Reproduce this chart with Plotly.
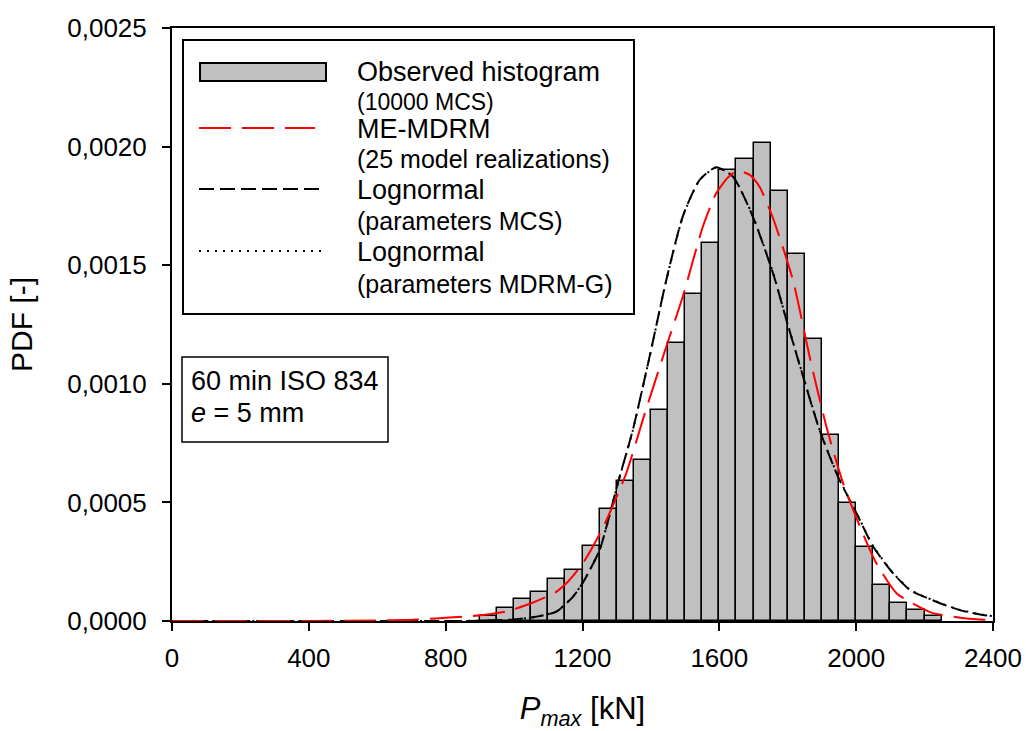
import plotly.graph_objects as go

# ---------------- data ----------------
bin_centers = [925, 975, 1025, 1075, 1125, 1175, 1225, 1275, 1325, 1375, 1425, 1475,
               1525, 1575, 1625, 1675, 1725, 1775, 1825, 1875, 1925, 1975, 2025, 2075,
               2125, 2175, 2225]
hist_pdf = [0.000020, 0.000056, 0.000091, 0.000121, 0.000177, 0.000213, 0.000317,
            0.000472, 0.000590, 0.000679, 0.000890, 0.001173, 0.001377, 0.001595,
            0.001901, 0.001948, 0.002017, 0.001813, 0.001546, 0.001189, 0.000784,
            0.000496, 0.000313, 0.000152, 0.000077, 0.000046, 0.000022]

me_mdrm_x = [0, 200, 400, 600, 700, 772, 849, 908, 977, 1054, 1120, 1160, 1201, 1259,
             1328, 1376, 1445, 1493, 1552, 1591, 1625, 1654, 1690, 1718, 1757, 1815,
             1864, 1913, 1962, 2011, 2059, 2118, 2157, 2225, 2323, 2400]
me_mdrm_y = [0, 0, 0, 0.000002, 0.000005, 0.000011, 0.000018, 0.000025, 0.000040,
             0.000077, 0.000120, 0.000170, 0.000243, 0.000391, 0.000623, 0.000847,
             0.001157, 0.001367, 0.001663, 0.001803, 0.001870, 0.001898, 0.001880,
             0.001830, 0.001698, 0.001438, 0.001114, 0.000819, 0.000580, 0.000398,
             0.000243, 0.000117, 0.000081, 0.000033, 0.000011, 0.000003]

logn_mcs_x = [0, 400, 800, 900, 1000, 1064, 1123, 1172, 1200, 1250, 1303, 1347, 1396,
              1445, 1493, 1542, 1591, 1640, 1698, 1757, 1796, 1845, 1893, 1947, 2001,
              2050, 2108, 2157, 2186, 2245, 2303, 2371, 2400]
logn_mcs_y = [0, 0, 0.0000002, 0.000001, 0.000006, 0.000018, 0.000039, 0.000102,
              0.000159, 0.000299, 0.000580, 0.000805, 0.001114, 0.001438, 0.001705,
              0.001859, 0.001913, 0.001873, 0.001705, 0.001466, 0.001269, 0.001030,
              0.000805, 0.000608, 0.000454, 0.000313, 0.000201, 0.000131, 0.000110,
              0.000075, 0.000046, 0.000025, 0.000020]

logn_mdrmg_x = [0, 400, 800, 900, 1000, 1064, 1123, 1172, 1200, 1250, 1303, 1347, 1396,
                1445, 1493, 1542, 1591, 1640, 1698, 1757, 1796, 1845, 1893, 1947, 2001,
                2050, 2108, 2157, 2186, 2245, 2303, 2371, 2400]
logn_mdrmg_y = [0, 0, 0.0000002, 0.000001, 0.000006, 0.000018, 0.000040, 0.000103,
                0.000160, 0.000300, 0.000578, 0.000803, 0.001112, 0.001436, 0.001703,
                0.001858, 0.001912, 0.001873, 0.001706, 0.001468, 0.001271, 0.001032,
                0.000807, 0.000610, 0.000456, 0.000315, 0.000202, 0.000132, 0.000111,
                0.000076, 0.000047, 0.000026, 0.000020]

x_ticks = [0, 400, 800, 1200, 1600, 2000, 2400]
x_tick_labels = ["0", "400", "800", "1200", "1600", "2000", "2400"]
y_ticks = [0, 0.0005, 0.0010, 0.0015, 0.0020, 0.0025]
y_tick_labels = ["0,0000", "0,0005", "0,0010", "0,0015", "0,0020", "0,0025"]

legend_labels = [
    ("Observed histogram", "(10000 MCS)"),
    ("ME-MDRM", "(25 model realizations)"),
    ("Lognormal", "(parameters MCS)"),
    ("Lognormal", "(parameters MDRM-G)"),
]
info_lines = ["60 min ISO 834", "<i>e</i> = 5 mm"]

# ---------------- layout geometry ----------------
FIG_W, FIG_H = 1026, 731
L, R, T, B = 172, 33, 28, 110
PW, PH = FIG_W - L - R, FIG_H - T - B
FONT = "Liberation Sans, Arial, sans-serif"

def fx(p):
    return (p - L) / PW

def fy(p):
    return 1 - (p - T) / PH

RED_DASH = "32px,11px"
BLK_DASH = "15px,6px"
DOT = "2px,6px"

fig = go.Figure()
fig.add_trace(go.Bar(x=bin_centers, y=hist_pdf, width=50,
                     marker=dict(color="#c0c0c0", line=dict(color="black", width=1.5)),
                     name="Observed histogram", showlegend=False))
fig.add_trace(go.Scatter(x=logn_mdrmg_x, y=logn_mdrmg_y, mode="lines",
                         line=dict(color="black", width=2, dash=DOT, shape="spline", smoothing=0.6),
                         name="Lognormal (parameters MDRM-G)", showlegend=False))
fig.add_trace(go.Scatter(x=logn_mcs_x, y=logn_mcs_y, mode="lines",
                         line=dict(color="black", width=2, dash=BLK_DASH, shape="spline", smoothing=0.6),
                         name="Lognormal (parameters MCS)", showlegend=False))
fig.add_trace(go.Scatter(x=me_mdrm_x, y=me_mdrm_y, mode="lines",
                         line=dict(color="red", width=2, dash=RED_DASH, shape="spline", smoothing=0.6),
                         name="ME-MDRM", showlegend=False))

shapes = []
# legend box
shapes.append(dict(type="rect", xref="paper", yref="paper", x0=fx(183), x1=fx(634), y0=fy(314), y1=fy(40),
                   line=dict(color="black", width=2), fillcolor="white", layer="above"))
# legend symbols
shapes.append(dict(type="rect", xref="paper", yref="paper", x0=fx(200), x1=fx(326), y0=fy(81), y1=fy(63),
                   line=dict(color="black", width=2), fillcolor="#c0c0c0"))
shapes.append(dict(type="line", xref="paper", yref="paper", x0=fx(199), x1=fx(315), y0=fy(128), y1=fy(128),
                   line=dict(color="red", width=2, dash=RED_DASH)))
shapes.append(dict(type="line", xref="paper", yref="paper", x0=fx(199), x1=fx(324), y0=fy(189), y1=fy(189),
                   line=dict(color="black", width=2, dash=BLK_DASH)))
shapes.append(dict(type="line", xref="paper", yref="paper", x0=fx(199), x1=fx(324), y0=fy(251), y1=fy(251),
                   line=dict(color="black", width=2, dash=DOT)))
# info box
shapes.append(dict(type="rect", xref="paper", yref="paper", x0=fx(182), x1=fx(388), y0=fy(442), y1=fy(357),
                   line=dict(color="black", width=1.5), fillcolor="white"))

annotations = []
main_y = [72, 129, 190, 252]
sub_y = [102, 159, 221, 284]
sub_sizes = [23, 25, 25, 25]
for (main, sub), my, sy, ss in zip(legend_labels, main_y, sub_y, sub_sizes):
    annotations.append(dict(xref="paper", yref="paper", x=fx(355), y=fy(my), text=main,
                            showarrow=False, xanchor="left", yanchor="middle",
                            font=dict(family=FONT, size=27, color="black")))
    annotations.append(dict(xref="paper", yref="paper", x=fx(355), y=fy(sy), text=sub,
                            showarrow=False, xanchor="left", yanchor="middle",
                            font=dict(family=FONT, size=ss, color="black")))
for line, yy in zip(info_lines, [381, 413]):
    annotations.append(dict(xref="paper", yref="paper", x=fx(189), y=fy(yy), text=line,
                            showarrow=False, xanchor="left", yanchor="middle",
                            font=dict(family=FONT, size=27, color="black")))

fig.update_layout(
    width=FIG_W, height=FIG_H,
    margin=dict(l=L, r=R, t=T, b=B, autoexpand=False),
    plot_bgcolor="white", paper_bgcolor="white",
    font=dict(family=FONT, color="black"),
    bargap=0, showlegend=False,
    shapes=shapes, annotations=annotations,
    xaxis=dict(range=[0, 2400], tickvals=x_ticks, ticktext=x_tick_labels,
               showgrid=False, zeroline=False, showline=True, linecolor="black", linewidth=2,
               mirror=True, ticks="outside", ticklen=8, tickwidth=1.5, tickcolor="black",
               tickfont=dict(family=FONT, size=26), ticklabelstandoff=5,
               title=dict(text="<i>P</i><sub><i>max</i></sub> [kN]", font=dict(family=FONT, size=31),
                          standoff=30)),
    yaxis=dict(range=[0, 0.0025], tickvals=y_ticks, ticktext=y_tick_labels,
               showgrid=False, zeroline=False, showline=True, linecolor="black", linewidth=2,
               mirror=True, ticks="outside", ticklen=8, tickwidth=1.5, tickcolor="black",
               tickfont=dict(family=FONT, size=26), ticklabelstandoff=10,
               title=dict(text="PDF [-]", font=dict(family=FONT, size=30), standoff=26)),
)

fig.write_html("out.html")
